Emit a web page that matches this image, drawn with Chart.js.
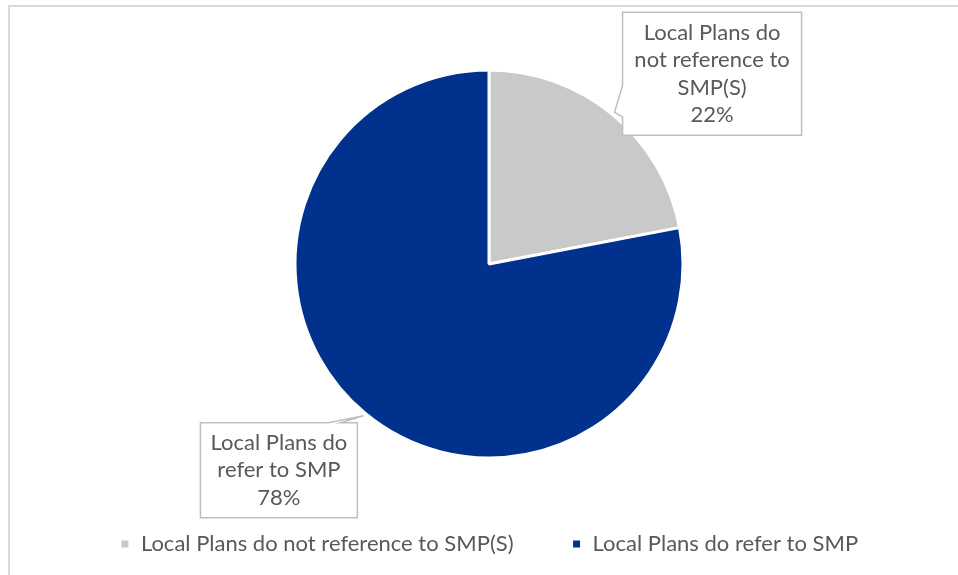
<!DOCTYPE html>
<html>
<head>
<meta charset="utf-8">
<script src="https://cdn.jsdelivr.net/npm/chart.js@4/dist/chart.umd.min.js"></script>
<style>
  html, body { margin: 0; padding: 0; background: #fff; }
  #wrap { position: relative; width: 958px; height: 575px; }
  #frame {
    position: absolute; left: 8px; top: 5px; right: 0; bottom: 0;
    border-top: 2px solid #d9d9d9; border-left: 2px solid #d9d9d9;
    pointer-events: none;
  }
</style>
</head>
<body>
<div id="wrap">
  <canvas id="myChart" width="958" height="575"></canvas>
  <div id="frame"></div>
</div>
<script>
const categories = ['Local Plans do not reference to SMP(S)', 'Local Plans do refer to SMP'];
const shares = [22, 78];
const sliceColors = ['#c9c9c9', '#00318c'];

const FONT = 'Lato, "Open Sans", sans-serif';
const FONT_SIZE = 22;
const TEXT = '#595959';

// callout boxes: position of the box relative to the pointer tip, box size,
// and which edge carries the pointer wedge (from/to along that edge)
const callouts = [
  { dx: 8, dy: -100, w: 179, h: 123, side: 'left', from: 73, to: 105, maxW: 165 },
  { dx: -163, dy: 7, w: 157, h: 95, side: 'top', from: 128, to: 140, maxW: 148 }
];

function wrapWords(ctx, text, maxW) {
  const words = text.split(' ');
  const lines = [];
  let cur = '';
  words.forEach(w => {
    const test = cur ? cur + ' ' + w : w;
    if (cur && ctx.measureText(test).width > maxW) {
      lines.push(cur);
      cur = w;
    } else {
      cur = test;
    }
  });
  if (cur) lines.push(cur);
  return lines;
}

const calloutPlugin = {
  id: 'callouts',
  afterDatasetsDraw(chart) {
    const ctx = chart.ctx;
    const meta = chart.getDatasetMeta(0);
    const data = chart.data.datasets[0].data;
    const total = data.reduce((a, b) => a + b, 0);
    ctx.save();
    ctx.font = FONT_SIZE + 'px ' + FONT;
    meta.data.forEach((arc, i) => {
      const c = callouts[i];
      const mid = (arc.startAngle + arc.endAngle) / 2;
      const tipR = arc.outerRadius + 3;
      const tx = arc.x + Math.cos(mid) * tipR;
      const ty = arc.y + Math.sin(mid) * tipR;
      const bx = tx + c.dx, by = ty + c.dy;

      // box outline with pointer wedge
      ctx.beginPath();
      if (c.side === 'left') {
        ctx.moveTo(bx, by);
        ctx.lineTo(bx + c.w, by);
        ctx.lineTo(bx + c.w, by + c.h);
        ctx.lineTo(bx, by + c.h);
        ctx.lineTo(bx, by + c.to);
        ctx.lineTo(tx, ty);
        ctx.lineTo(bx, by + c.from);
      } else {
        ctx.moveTo(bx, by);
        ctx.lineTo(bx + c.from, by);
        ctx.lineTo(tx, ty);
        ctx.lineTo(bx + c.to, by);
        ctx.lineTo(bx + c.w, by);
        ctx.lineTo(bx + c.w, by + c.h);
        ctx.lineTo(bx, by + c.h);
      }
      ctx.closePath();
      ctx.fillStyle = '#ffffff';
      ctx.fill();
      ctx.lineWidth = 1.5;
      ctx.strokeStyle = '#bfbfbf';
      ctx.stroke();

      const lines = wrapWords(ctx, chart.data.labels[i], c.maxW);
      lines.push(Math.round(data[i] / total * 100) + '%');
      const lh = 27.5;
      const cy = by + c.h / 2;
      ctx.fillStyle = TEXT;
      ctx.textAlign = 'center';
      ctx.textBaseline = 'middle';
      lines.forEach((ln, k) => {
        ctx.fillText(ln, bx + c.w / 2, cy + (k - (lines.length - 1) / 2) * lh);
      });
    });
    ctx.restore();
  }
};

new Chart(document.getElementById('myChart'), {
  type: 'pie',
  data: {
    labels: categories,
    datasets: [{
      data: shares,
      backgroundColor: sliceColors,
      borderColor: '#ffffff',
      borderWidth: 3,
      radius: 194,
      clip: false
    }]
  },
  options: {
    responsive: false,
    animation: false,
    events: [],
    layout: { padding: { top: 53, left: 20, right: 0, bottom: 10 } },
    plugins: {
      tooltip: { enabled: false },
      legend: {
        position: 'bottom',
        labels: {
          boxWidth: 10,
          boxHeight: 10,
          padding: 58,
          color: TEXT,
          font: { family: FONT, size: FONT_SIZE }
        }
      }
    }
  },
  plugins: [calloutPlugin]
});
</script>
</body>
</html>
